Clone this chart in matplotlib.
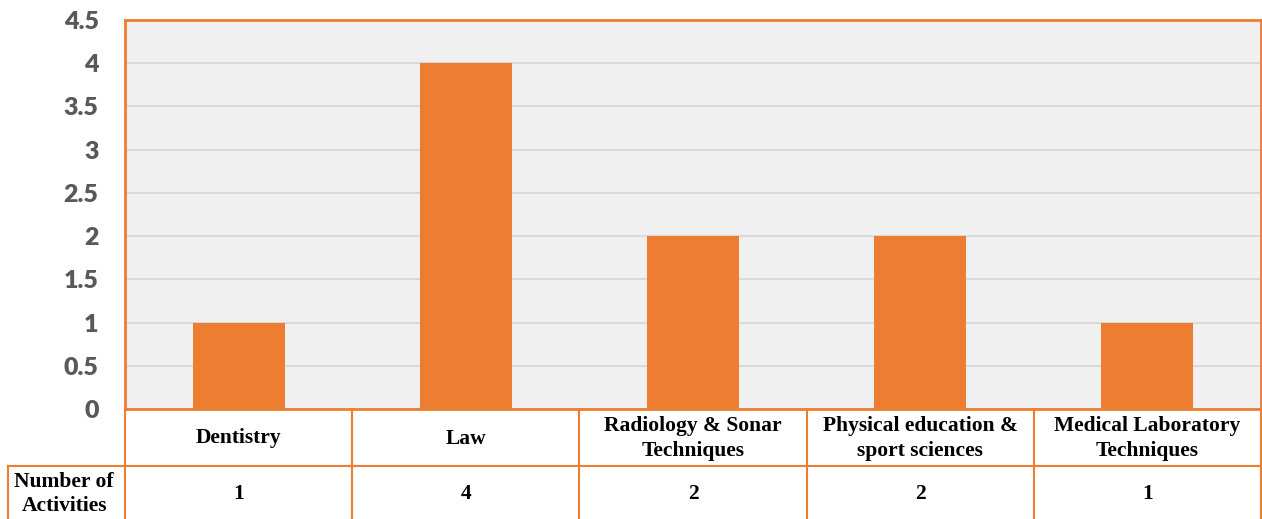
import matplotlib
matplotlib.use('Agg')
import matplotlib.pyplot as plt
import numpy as np

## data
categories = ['Dentistry', 'Law', 'Radiology & Sonar\nTechniques',
              'Physical education &\nsport sciences', 'Medical Laboratory\nTechniques']
activities = [1, 4, 2, 2, 1]
yticks = [0, 0.5, 1, 1.5, 2, 2.5, 3, 3.5, 4, 4.5]
row_header = 'Number of\nActivities'

orange = '#ED7D31'
W, H = 1262, 519
fig = plt.figure(figsize=(W/100, H/100), dpi=100)

# plot area in pixels
L, R, T, B = 125, 1261, 20, 409
ax = fig.add_axes([L/W, (H-B)/H, (R-L)/W, (B-T)/H])
ax.set_facecolor('#F0F0F0')
x = np.arange(len(categories))
ax.bar(x, activities, width=0.405, color=orange, zorder=3)
ax.set_xlim(-0.5, len(categories)-0.5)
ax.set_ylim(0, 4.5)
ax.set_yticks(yticks)
ax.set_yticklabels([f'{v:g}' for v in yticks], fontfamily='Lato', fontweight='heavy',
                   fontsize=18, color='#595959')
ax.tick_params(axis='y', length=0, pad=19)
ax.set_xticks([])
ax.grid(axis='y', color='#D9D9D9', linewidth=1.5, zorder=0)
for s in ax.spines.values():
    s.set_color(orange)
    s.set_linewidth(2)

# table below the plot, y in pixels from the plot bottom
tb = fig.add_axes([L/W, 0, (R-L)/W, (H-B)/H])
tb.set_xlim(-0.5, len(categories)-0.5)
tb.set_ylim(H-B, 0)
tb.axis('off')
row1 = 466 - B
lw = 1.5
for i in range(len(categories)+1):
    tb.plot([i-0.5, i-0.5], [0, H-B], color=orange, lw=lw, clip_on=False)
tb.plot([-0.5, len(categories)-0.5], [row1, row1], color=orange, lw=lw)
# header cell extends left
colw = (R-L)/len(categories)
left_x = -0.5 - (L-8)/colw
tb.plot([left_x, -0.5], [row1, row1], color=orange, lw=lw, clip_on=False)
tb.plot([left_x, left_x], [row1, H-B], color=orange, lw=lw, clip_on=False)

tfont = dict(fontfamily='Liberation Serif', fontweight='bold', fontsize=15.5)
for i, (c, v) in enumerate(zip(categories, activities)):
    tb.text(i, row1/2 + 1, c, ha='center', va='center', linespacing=1.3, **tfont)
    tb.text(i, 494 - B, str(v), ha='center', va='center', **tfont)
tb.text((left_x-0.5)/2 - 0.01, 494-B, row_header, ha='center', va='center',
        linespacing=1.3, clip_on=False, **tfont)

fig.savefig('out.png', dpi=100)
